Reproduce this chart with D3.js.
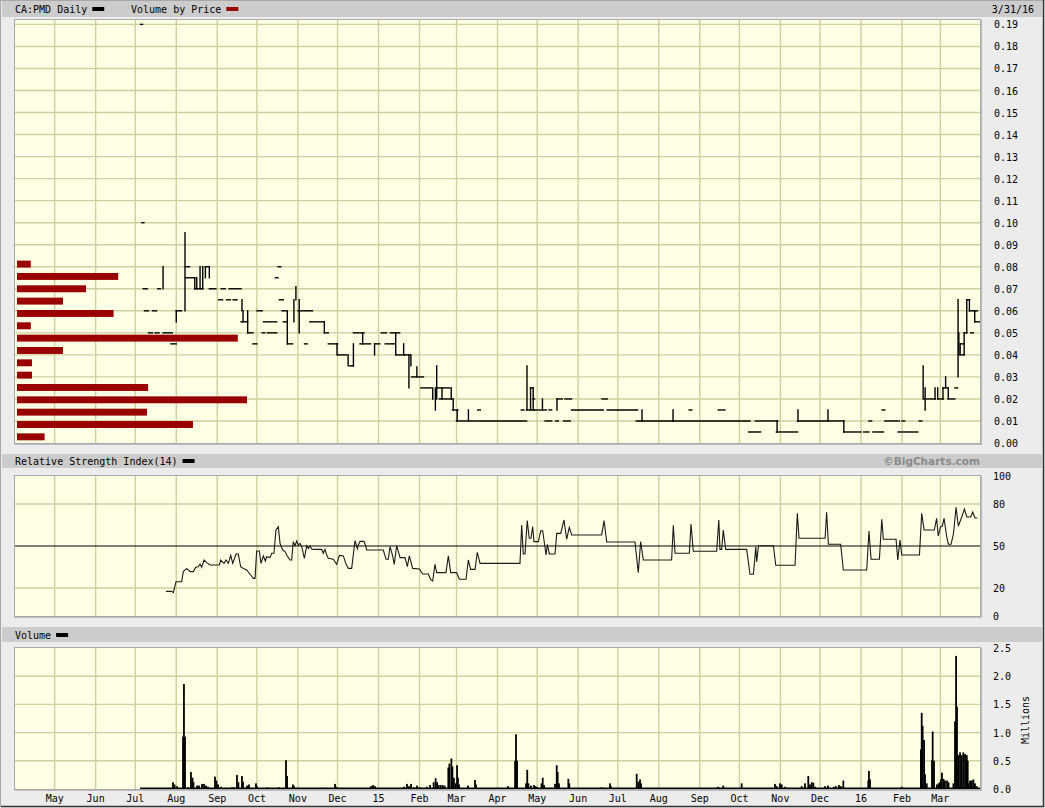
<!DOCTYPE html>
<html><head><meta charset="utf-8">
<script src="https://cdn.jsdelivr.net/npm/d3@7"></script>
<style>body{margin:0;background:#ececec;}svg{display:block}</style>
</head><body><svg id="c" width="1045" height="808"></svg>
<script>
// ---------------- DATA ----------------
const startDate = new Date(2014, 3, 1);   // day 0
const endDate = new Date(2016, 2, 31);    // day 730
const symbolTitle = "CA:PMD Daily";
const lastDateLabel = "3/31/16";
const monthLabels = ["May","Jun","Jul","Aug","Sep","Oct","Nov","Dec","15","Feb","Mar","Apr",
                     "May","Jun","Jul","Aug","Sep","Oct","Nov","Dec","16","Feb","Mar"];
const priceTicks = [0,0.01,0.02,0.03,0.04,0.05,0.06,0.07,0.08,0.09,0.10,0.11,0.12,0.13,0.14,0.15,0.16,0.17,0.18,0.19];
const rsiTicks = [0,20,50,80,100];
const rsiGrid = [20,50,80];
const volTicks = [0,0.5,1.0,1.5,2.0,2.5];

// price: horizontal runs [startDay, endDay, price]
const priceRuns = [
[95,96.5,0.19],[96,97.5,0.10],
[97,100,0.07],[108,110,0.07],
[98,101,0.06],[104,107,0.06],
[101,104,0.05],[106,109,0.05],[112,119,0.05],
[118,122,0.045],[122,126,0.06],
[129,132,0.08],[129,136,0.075],[136,142,0.07],[144,147,0.08],
[147,152,0.07],[156,159,0.07],[162,171,0.07],
[154,157,0.065],[160,163,0.065],[165,168,0.065],
[171,176,0.055],[176,180,0.05],[180,183,0.045],[183,187,0.06],
[187,189,0.05],[191,194,0.05],[195,198,0.05],
[188,191,0.055],[192,195,0.055],[196,198,0.055],
[199,201,0.08],[197,199,0.075],[200,203,0.065],
[202,205,0.06],[203,206,0.055],[206,210,0.045],
[214,225,0.06],[219,221,0.045],[223,234,0.055],[234,237,0.05],
[237,244,0.045],[244,251,0.04],[253,256,0.035],
[256,260,0.05],[261,264,0.05],[261,269,0.045],[272,276,0.045],
[277,281,0.05],[284,291,0.05],[280,287,0.045],
[288,295,0.04],[295,299,0.04],[300,309,0.03],[307,315,0.025],
[319,329,0.025],[321,331,0.02],[331,335,0.015],[334,350,0.01],
[350,352,0.015],[351,383,0.01],[383,385,0.015],[384,387,0.01],
[387,393,0.015],[390,392,0.025],[392,393,0.02],[393,399,0.015],
[400,402,0.015],[404,406,0.015],
[401,406,0.01],[409,411,0.01],[415,420,0.01],
[410,414,0.02],[416,421,0.02],
[421,445,0.015],[444,448,0.02],[448,471,0.015],
[470,498,0.01],[498,556,0.01],[510,512,0.015],
[532,534,0.015],[535,537,0.015],
[555,557,0.005],[558,560,0.005],[561,564,0.005],
[560,577,0.01],[576,592,0.005],[592,615,0.01],[615,627,0.01],
[627,634,0.005],[635,640,0.005],[642,646,0.005],[649,657,0.005],
[646,648,0.01],[656,658,0.015],
[658,669,0.01],[671,673,0.01],[668,683,0.005],[684,686,0.01],
[688,696,0.02],[698,702,0.02],[702,706,0.025],[706,711,0.02],[711,713,0.025],
[715,718,0.04],[715,718,0.045],[718,720,0.05],[720,722,0.065],
[722,728,0.06],[723,725,0.05],[726,730,0.055]
];
// price: daily high-low ranges [day, low, high]
const priceRanges = [
[112,0.07,0.08],[122,0.055,0.06],[128.6,0.06,0.0955],
[136,0.07,0.075],[137.5,0.07,0.075],[140,0.07,0.08],[142,0.07,0.08],
[144,0.075,0.08],[147,0.075,0.08],
[171.7,0.06,0.065],[172.5,0.055,0.06],[176,0.05,0.06],
[206,0.045,0.06],[211,0.055,0.065],[212.5,0.065,0.071],[215,0.05,0.065],
[234,0.05,0.055],[243.6,0.04,0.045],[252,0.035,0.04],[256,0.035,0.045],
[263,0.045,0.05],[272,0.04,0.045],[288,0.04,0.05],[294,0.04,0.045],
[298,0.025,0.04],[299.5,0.035,0.04],[304,0.03,0.0345],
[316,0.02,0.025],[318,0.015,0.025],[319,0.02,0.035],
[323,0.02,0.025],[330,0.02,0.025],[331.5,0.015,0.02],
[334.5,0.01,0.015],[343,0.01,0.015],
[387.3,0.015,0.035],[390,0.015,0.025],[392,0.015,0.025],
[399,0.015,0.02],[410,0.015,0.02],
[474.3,0.01,0.015],[497.8,0.01,0.015],[576.5,0.005,0.01],
[592.3,0.01,0.015],[615,0.01,0.015],[627,0.005,0.01],
[687,0.02,0.035],[688.5,0.015,0.025],[696,0.02,0.025],[698,0.02,0.025],
[702,0.02,0.025],[704,0.025,0.03],[706,0.02,0.025],
[713.4,0.03,0.065],[714,0.04,0.05],[715,0.04,0.045],[718,0.04,0.05],
[720,0.05,0.065],[722,0.06,0.065],[726,0.055,0.06]
];
// volume by price (bins from 0, width 0.0056), relative volume, bottom bin first
const vbpBinSize = 0.0056;
const vbpVolumes = [1.2, 7.65, 5.65, 10.0, 5.7, 0.65, 0.65, 2.0, 9.6, 0.6, 4.2, 2.0, 3.0, 4.4, 0.6];

// RSI(14): [day, value]
const rsiPoints = [
[114.2,17.6],[118.5,17.6],[119.8,16.7],[121.8,24.5],[126.1,24.5],[127.3,31.7],[129.9,34],
[132.4,31.7],[134.9,31.7],[136.7,34.8],[138.7,35.2],[140,37.1],[141.2,34.8],[143,40],
[145,38.1],[147.5,36.4],[154.6,36.4],[155.6,40],[158.1,37.6],[159.6,40],[161.4,37.6],
[163.2,43.3],[164.7,37.6],[167.2,44.3],[168.9,44.3],[170.7,35.2],[172.7,34],[175.3,32.9],
[177.8,29.8],[180.3,26.9],[181.6,26.9],[182.8,46.4],[184.8,46.4],[186.1,37.6],[187.9,42.9],
[189.4,39.3],[190.4,42.4],[192.9,41.7],[194.2,44.8],[195.9,44.8],[197.4,61.4],[199.2,63.8],
[200.5,51.9],[202.5,47.1],[204.3,46],[205.5,43.6],[208,40],[209.3,40],[210.5,53.1],
[211.8,50.2],[213.1,53.6],[214.3,50.7],[215.6,51.9],[216.9,49.5],[218.9,41.2],[220.7,50.2],
[221.9,48.3],[223.2,50],[224.4,47.9],[225.7,47.6],[232,47.6],[233.2,44.8],[234.5,47.6],
[235.8,43.6],[237,41.2],[240.8,40.5],[243.3,36.9],[245.4,43.3],[248.4,42.9],[250.4,37.1],
[252.2,34],[254.7,34],[257.2,53.8],[259,48.1],[259.7,50.7],[261,53.3],[264,53.3],
[265.5,49.5],[266,47.1],[278.6,47.1],[280.7,40.5],[282.4,40.5],[283.7,49.5],[285.7,42.9],
[286.9,36.9],[288.7,50.2],[291.3,41.7],[295,41.7],[296.8,35.2],[298.3,42.9],[300.8,34],
[305.9,33.6],[308.4,30],[312.7,30],[314.4,26.2],[316,25],[317.7,36.9],[319,31],
[326,31],[327.8,42.9],[329.6,31],[334.1,31],[336.1,26.2],[341.2,26.2],[342.9,40],
[344.7,33.3],[348,33.3],[349.7,45.5],[351.8,37.6],[382,37.6],[383.3,65],[384.5,44.3],
[385.8,44.3],[387.5,68.1],[389,55.5],[390.3,55.5],[391.6,63.8],[392.6,53.1],[395.9,53.1],
[397.7,60.9],[399.2,60.9],[401.7,43.6],[402.7,51.2],[404.2,44.3],[408.5,44.3],[409.8,59],
[412.8,59],[415.3,68.6],[417.3,54.8],[419.3,63.3],[421.1,57.9],[443.8,57.9],[445.6,68.1],
[447.6,52.9],[469,52.9],[471.5,31],[473.3,53.1],[475.3,40],[496.7,40],[498,64.8],
[499.3,44.8],[510.1,44.8],[511.4,65.7],[513.1,46.2],[530.8,46.2],[532.4,68.6],[533.3,47.6],
[534.6,47.6],[535.8,61.4],[537.6,47.6],[553.5,47.6],[556,29.8],[558.6,29.8],[560.4,49.5],
[561.1,38.6],[562.4,50.2],[573.7,50.2],[575.5,36.2],[590.1,36.2],[591.8,73.3],[593.1,55.5],
[612.8,55.5],[614,74.1],[615.3,51.2],[624.6,51.2],[626.6,32.9],[644.3,32.9],[646,60.7],
[647.6,40.5],[653.9,40.5],[655.7,69],[656.9,54.8],[666.5,54.8],[667.8,40],[669.5,54.3],
[670.8,43.6],[684.2,43.6],[685.9,73.3],[687.7,61.4],[695.4,61.4],[697.2,69.8],[698.4,57.1],
[700.2,63.8],[701.5,64.3],[702.8,69.8],[704.8,56.7],[706.1,51.2],[708.1,51.2],[709.9,58.6],
[711.9,77.6],[713.6,64.3],[716.2,70.7],[718.2,76.4],[720,70.7],[723,70.7],[724.5,74.3],
[726.2,70],[728,70]
];

// Volume (millions): [day, volume]
const volumeFirstDay = 94.6;
const volumePoints = [
[111.2,0.02],[119.5,0.12],[120.7,0.08],[122.6,0.05],[127.1,0.93],[127.8,1.86],[128.6,0.93],
[130.9,0.03],[133.1,0.30],[134.3,0.2],[135,0.12],[137.7,0.06],[139.2,0.06],[141.5,0.09],
[143,0.09],[144.5,0.06],[146,0.04],[151.3,0.22],[152.4,0.15],[153.6,0.08],[155.8,0.04],
[164.1,0.03],[165.7,0.03],[167.9,0.25],[169,0.12],[171.7,0.23],[172.5,0.13],[175.5,0.06],
[177,0.08],[182.3,0.1],[183,0.05],[190.6,0.03],[199.7,0.03],[205,0.51],[205.8,0.23],
[210.3,0.08],[211,0.05],[214,0.02],[231.5,0.02],[233.8,0.02],[242.1,0.09],[242.8,0.04],
[269.3,0.05],[270.8,0.07],[272.3,0.05],[277.6,0.02],[286.7,0.02],[294.3,0.04],[296.5,0.09],
[298,0.05],[299.6,0.09],[301.8,0.03],[304.1,0.06],[306.4,0.03],[311.7,0.04],[314,0.07],
[316.7,0.12],[318.2,0.19],[319.3,0.12],[320.5,0.07],[322,0.07],[323.5,0.07],[325,0.06],
[327.8,0.38],[328.6,0.45],[330.1,0.54],[330.9,0.4],[332,0.2],[333.2,0.1],[334.4,0.42],
[335.1,0.2],[335.9,0.08],[342.7,0.06],[348,0.16],[348.7,0.08],[373,0.05],[378.3,0.5],
[379,0.97],[379.8,0.5],[386.6,0.1],[387.5,0.34],[388.4,0.1],[390.3,0.06],[392.6,0.07],
[393.4,0.05],[394.9,0.04],[398.3,0.1],[399.2,0.2],[400.2,0.07],[408.5,0.09],[409.8,0.42],
[410.5,0.3],[411.5,0.1],[418.6,0.18],[419.3,0.1],[443.8,0.03],[450.1,0.1],[450.8,0.05],
[470.3,0.27],[471.5,0.13],[472.8,0.17],[473.6,0.1],[481.6,0.02],[496.7,0.02],[532,0.04],
[535.8,0.06],[549.7,0.1],[574.9,0.09],[576.2,0.05],[578.7,0.1],[580,0.08],[582.5,0.04],
[595.1,0.05],[597.6,0.1],[600.1,0.23],[601.4,0.08],[602.7,0.12],[603.9,0.11],[605.2,0.04],
[607.2,0.02],[612.8,0.05],[615,0.06],[619.5,0.04],[621,0.05],[623.3,0.07],[624.8,0.05],
[626.6,0.15],[645.5,0.15],[646,0.32],[646.8,0.17],[670.8,0.04],[685.3,0.7],[685.9,1.35],
[686.6,1.12],[687.7,0.87],[688.4,0.26],[689.7,0.1],[693.7,0.51],[694.2,1.02],[695.2,0.5],
[697.4,0.08],[698.6,0.1],[699.7,0.12],[700.5,0.17],[701.2,0.29],[702.4,0.18],[703.5,0.15],
[705.1,0.15],[706.2,0.12],[709.9,0.1],[711.1,1.2],[711.9,2.36],[712.6,1.46],[713.6,0.6],
[714.9,0.65],[716.2,0.6],[717.4,0.65],[718.7,0.62],[720,0.6],[720.7,0.5],[721.2,0.1],
[722.5,0.15],[723.8,0.15],[725,0.17],[726.2,0.1],[727.5,0.05]
];

// ---------------- DRAW ----------------
const svg = d3.select('#c');
const L = 15, R = 980;
const P = {top: 20, bottom: 443}, S = {top: 476, bottom: 616}, V = {top: 648, bottom: 789};
const MONO = "'DejaVu Sans Mono', 'Liberation Mono', monospace";
const plotFill = "#ffffe6", gridCol = "#cfcf9f";

const x = d3.scaleTime().domain([startDate, endDate]).range([L, R]);
const xd = d => x(new Date(startDate.getTime() + d * 86400000));
const yP = d3.scaleLinear().domain([0, 0.192]).range([P.bottom, P.top]);
const yS = d3.scaleLinear().domain([0, 100]).range([S.bottom, S.top]);
const yV = d3.scaleLinear().domain([0, 2.5]).range([V.bottom, V.top]);
const xVbp = d3.scaleLinear().domain([0, 10]).range([0, 230]);
const months = d3.timeMonth.range(new Date(2014, 4, 1), new Date(2016, 3, 1));

// background & frame
svg.append('rect').attr('width', 1045).attr('height', 808).attr('fill', '#ececec');
svg.append('path').attr('d', 'M0.5,807 V0.5 H1044').attr('stroke', '#a8a8a8').attr('fill', 'none');
svg.append('path').attr('d', 'M1,806.5 H1043.5 V0').attr('stroke', '#333').attr('stroke-width', 1.5).attr('fill', 'none');

function headerBar(y0, h) {
  svg.append('rect').attr('x', 2).attr('y', y0).attr('width', 1040).attr('height', h).attr('fill', '#cccccc');
}
headerBar(1, 16); headerBar(454, 14); headerBar(627, 15);

function txt(s, xx, yy, opt = {}) {
  return svg.append('text').attr('x', xx).attr('y', yy).text(s)
    .attr('font-family', opt.family || MONO).attr('font-size', opt.size || 10)
    .attr('fill', opt.fill || '#000').attr('text-anchor', opt.anchor || 'start')
    .attr('font-weight', opt.weight || 'normal');
}
function swatch(xx, yy, col) {
  svg.append('rect').attr('x', xx).attr('y', yy).attr('width', 12).attr('height', 4).attr('fill', col);
}
const t1 = txt(symbolTitle, 15, 13);
swatch(15 + t1.node().getComputedTextLength() + 5, 7, '#000');
const t2 = txt("Volume by Price", 131, 13);
swatch(131 + t2.node().getComputedTextLength() + 5, 7, '#990000');
txt(lastDateLabel, 1034, 13, {anchor: 'end'});
const t3 = txt("Relative Strength Index(14)", 15, 465);
swatch(15 + t3.node().getComputedTextLength() + 5, 459, '#000');
txt("\u00A9BigCharts.com", 980, 465, {family: "'DejaVu Sans', Verdana, sans-serif", size: 10.5, weight: 'bold', fill: '#8a8a8a', anchor: 'end'});
const t4 = txt("Volume", 15, 639);
swatch(15 + t4.node().getComputedTextLength() + 5, 633, '#000');

function panel(p, hVals, yScale) {
  const g = svg.append('g');
  g.append('rect').attr('x', L).attr('y', p.top).attr('width', R - L).attr('height', p.bottom - p.top).attr('fill', plotFill);
  g.selectAll('.hg').data(hVals).enter().append('line')
    .attr('x1', L).attr('x2', R).attr('y1', d => yScale(d)).attr('y2', d => yScale(d))
    .attr('stroke', gridCol).attr('stroke-width', 1.4);
  g.selectAll('.vg').data(months).enter().append('line')
    .attr('x1', d => x(d)).attr('x2', d => x(d)).attr('y1', p.top).attr('y2', p.bottom)
    .attr('stroke', gridCol).attr('stroke-width', 1.4);
  return g;
}
function frame(p) {
  svg.append('rect').attr('x', L - 0.5).attr('y', p.top - 0.5).attr('width', R - L + 1).attr('height', p.bottom - p.top + 1)
    .attr('fill', 'none').attr('stroke', '#a9a9a9');
  svg.append('path').attr('d', `M${L},${p.bottom + 1.5} H${R + 1.5} V${p.top}`).attr('fill', 'none').attr('stroke', '#bdbdbd').attr('stroke-width', 1.2);
}

// ---- price panel
panel(P, priceTicks.slice(1), yP);
const gv = svg.append('g');
gv.selectAll('rect').data(vbpVolumes).enter().append('rect')
  .attr('x', L + 2)
  .attr('y', (d, i) => yP((i + 1) * vbpBinSize) + 2.7)
  .attr('height', (d, i) => yP(i * vbpBinSize) - yP((i + 1) * vbpBinSize) - 5.4)
  .attr('width', d => xVbp(d))
  .attr('fill', '#990000');
const gp = svg.append('g').attr('stroke', '#000').attr('stroke-width', 1.4).attr('stroke-linecap', 'square');
gp.selectAll('.run').data(priceRuns).enter().append('line')
  .attr('x1', d => xd(d[0])).attr('x2', d => xd(d[1])).attr('y1', d => yP(d[2])).attr('y2', d => yP(d[2]));
gp.selectAll('.rng').data(priceRanges).enter().append('line')
  .attr('x1', d => xd(d[0])).attr('x2', d => xd(d[0])).attr('y1', d => yP(d[1])).attr('y2', d => yP(d[2]));
frame(P);
priceTicks.forEach(v => txt(v.toFixed(2), 994, yP(v) + 4));

// ---- RSI panel
panel(S, rsiGrid.filter(v => v !== 50), yS);
svg.append('line').attr('x1', L).attr('x2', R).attr('y1', yS(50)).attr('y2', yS(50)).attr('stroke', '#000').attr('stroke-width', 1.2);
svg.append('path').datum(rsiPoints)
  .attr('d', d3.line().x(d => xd(d[0])).y(d => yS(d[1])))
  .attr('fill', 'none').attr('stroke', '#1a1a1a').attr('stroke-width', 1.1);
frame(S);
rsiTicks.forEach(v => txt(String(v), 993, yS(v) + 4));

// ---- Volume panel
panel(V, volTicks.slice(1, -1), yV);
svg.append('line').attr('x1', xd(volumeFirstDay)).attr('x2', R).attr('y1', yV(0) - 0.5).attr('y2', yV(0) - 0.5)
  .attr('stroke', '#000').attr('stroke-width', 2);
svg.append('g').selectAll('rect').data(volumePoints).enter().append('rect')
  .attr('x', d => xd(d[0]) - 0.9).attr('width', 1.8)
  .attr('y', d => yV(d[1])).attr('height', d => yV(0) - yV(d[1]))
  .attr('fill', '#000');
frame(V);
volTicks.forEach(v => txt(v.toFixed(1), 993, yV(v) + 4));
svg.append('text').attr('transform', 'translate(1029,720) rotate(-90)').attr('text-anchor', 'middle')
  .attr('font-family', MONO).attr('font-size', 10).text('Millions');

// x axis labels
svg.selectAll('.xl').data(months).enter().append('text')
  .attr('x', d => x(d)).attr('y', 802).attr('text-anchor', 'middle')
  .attr('font-family', MONO).attr('font-size', 10)
  .text((d, i) => monthLabels[i]);
</script></body></html>
